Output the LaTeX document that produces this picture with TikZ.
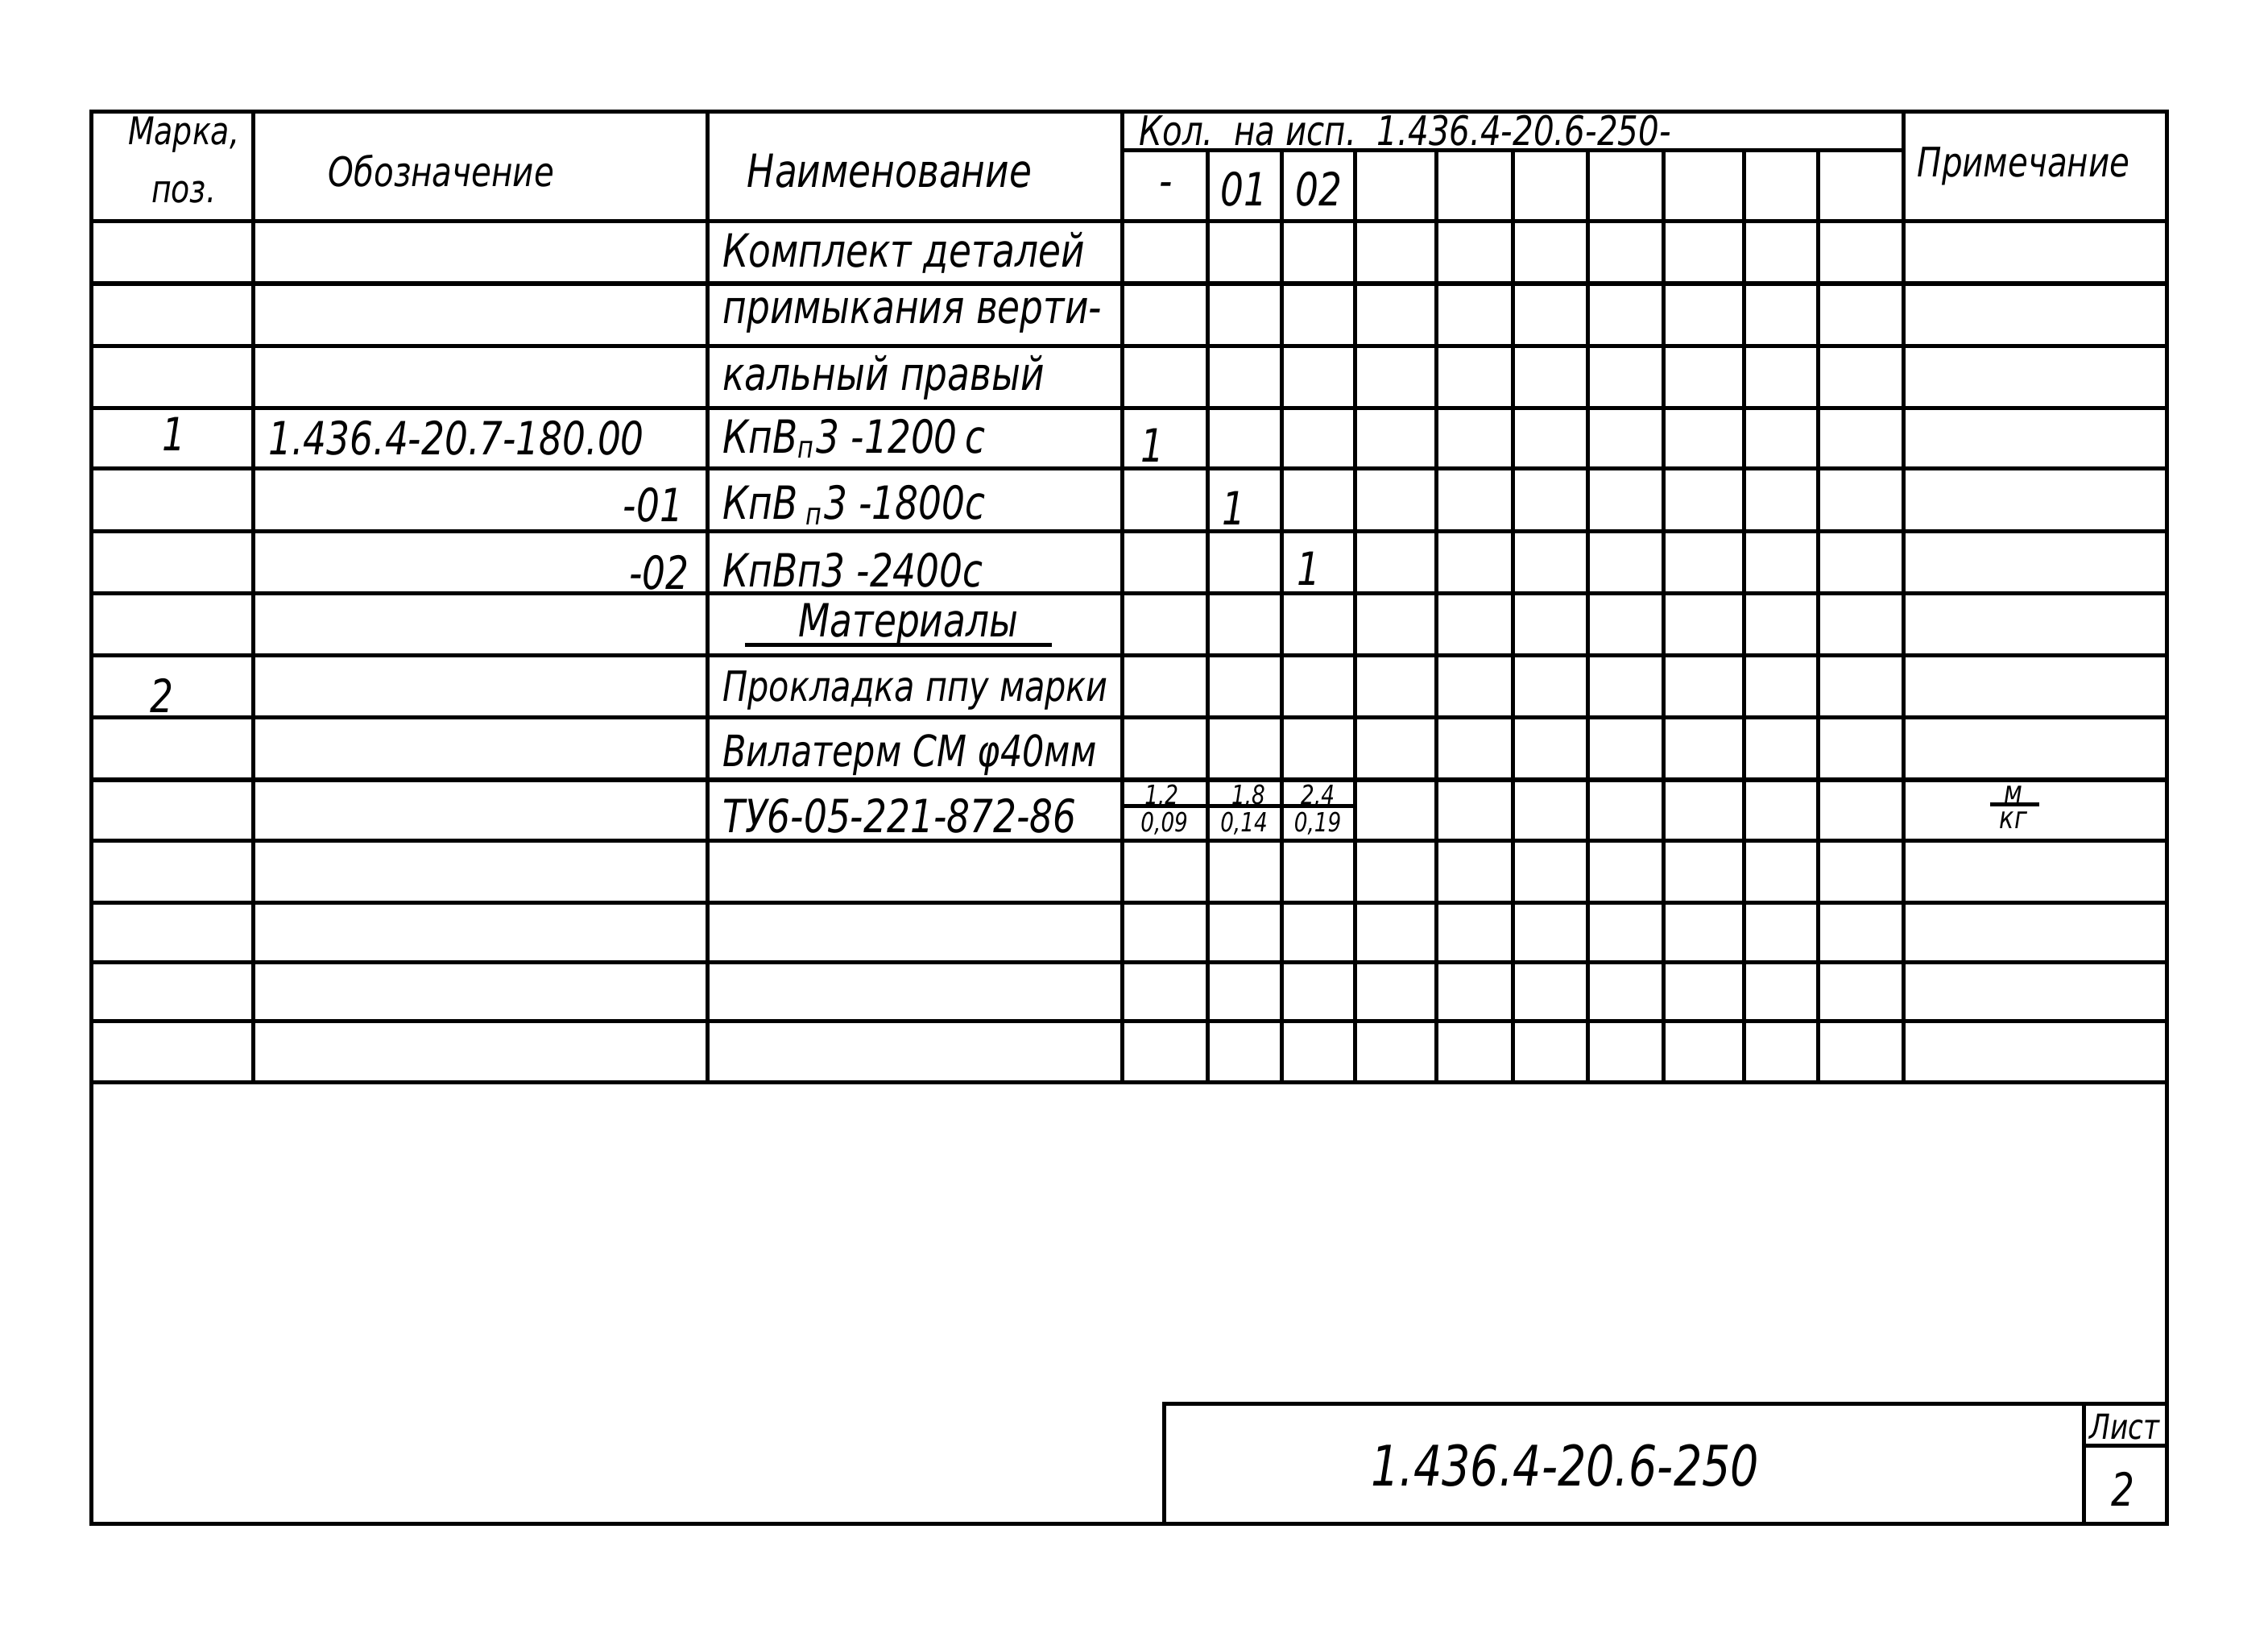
\documentclass[tikz,border=0pt]{standalone}
\usepackage{fontspec}
\setmainfont{DejaVu Sans}[FakeStretch=0.8]
\usepackage{tikz}

\tikzset{
  txt/.style={font=\itshape\fontsize{9}{11}\selectfont, inner sep=0pt},
  sml/.style={font=\itshape\fontsize{6.8}{8}\selectfont, inner sep=0pt},
  frc/.style={font=\itshape\fontsize{5.2}{6}\selectfont, inner sep=0pt},
  ln/.style={line width=.8pt}
}

\begin{document}
\begin{tikzpicture}[x=0.1mm,y=-0.1mm]
  \useasboundingbox (0,0) rectangle (1568,1131);
  % frame
  \draw[ln] (63,77) rectangle (1498,1053);
  % head
  \draw[ln] (776,104) -- (1316,104);
  \draw[ln] (175,77) -- (175,748);
  \draw[ln] (489,77) -- (489,748);
  \draw[ln] (776,77) -- (776,748);
  \draw[ln] (1316,77) -- (1316,748);
  \draw[ln] (835,104) -- (835,748) (886,104) -- (886,748) (937,104) -- (937,748)
            (993,104) -- (993,748) (1046,104) -- (1046,748) (1098,104) -- (1098,748)
            (1150,104) -- (1150,748) (1206,104) -- (1206,748) (1257,104) -- (1257,748);
  % rows
  \draw[ln] (63,153) -- (1498,153) (63,196) -- (1498,196) (63,239) -- (1498,239)
            (63,282) -- (1498,282) (63,324) -- (1498,324) (63,367) -- (1498,367)
            (63,410) -- (1498,410) (63,453) -- (1498,453) (63,496) -- (1498,496)
            (63,539) -- (1498,539) (63,581) -- (1498,581) (63,624) -- (1498,624)
            (63,665) -- (1498,665) (63,706) -- (1498,706) (63,748) -- (1498,748);
  % stamp
  \draw[ln] (805,970) rectangle (1498,1053);
  \draw[ln] (1441,970) -- (1441,1053);
  \draw[ln] (1441,999) -- (1498,999);

  \node[sml,font=\itshape\fontsize{7.5}{9}\selectfont] (marka) at (127,93) {Марка,};
  \node[sml,font=\itshape\fontsize{7.5}{9}\selectfont] (poz) at (127,133) {поз.};
  \node[txt,font=\itshape\fontsize{8}{10}\selectfont] (oboz) at (305,118) {Обозначение};
  \node[txt] (naim) at (615,118) {Наименование};
  \node[txt,anchor=west,font=\itshape\fontsize{8}{10}\selectfont] (kol) at (787,90) {Кол.\ \ на исп.\ \ 1.436.4-20.6-250-};
  \node[txt] (isp0) at (806,131) {-};
  \node[txt] (isp1) at (860,131) {01};
  \node[txt] (isp2) at (912,131) {02};
  \node[txt,font=\itshape\fontsize{8}{10}\selectfont] (prim) at (1399,115) {Примечание};

  \node[txt,anchor=west] (n1) at (499,175) {Комплект деталей};
  \node[txt,anchor=west] (n2) at (499,218) {примыкания верти-};
  \node[txt,anchor=west] (n3) at (499,261) {кальный правый};

  \node[txt] (p1) at (120,300) {1};
  \node[txt,anchor=west] (o1) at (185,303) {1.436.4-20.7-180.00};
  \node[txt,anchor=west] (n4) at (499,303) {КпВ\textsubscript{п}3 -1200\,с};
  \node[txt] (q1) at (797,308) {1};

  \node[txt,anchor=east] (o2) at (473,349) {-01};
  \node[txt,anchor=west] (n5) at (499,349) {КпВ\,\textsubscript{п}3 -1800с};
  \node[txt] (q2) at (853,351) {1};

  \node[txt,anchor=east] (o3) at (477,396) {-02};
  \node[txt,anchor=west] (n6) at (499,394) {КпВп3 -2400с};
  \node[txt] (q3) at (905,393) {1};

  \node[txt] (mat) at (628,432) {Материалы};
  \draw[ln] (515,446) -- (727,446);

  \node[txt] (p2) at (112,481) {2};
  \node[txt,anchor=west,font=\itshape\fontsize{8.2}{10}\selectfont] (n8) at (499,477) {Прокладка ппу марки};
  \node[txt,anchor=west,font=\itshape\fontsize{8.5}{10}\selectfont] (n9) at (499,522) {Вилатерм СМ φ40мм};
  \node[txt,anchor=west] (n10) at (499,564) {ТУ6-05-221-872-86};

  \draw[ln] (776,557) -- (937,557);
  \node[frc] (a1) at (803,550) {1,2};
  \node[frc] (b1) at (805,569) {0,09};
  \node[frc] (a2) at (863,550) {1,8};
  \node[frc] (b2) at (860,569) {0,14};
  \node[frc] (a3) at (911,550) {2,4};
  \node[frc] (b3) at (911,569) {0,19};
  \draw[ln] (1376,556) -- (1410,556);
  \node[frc,font=\itshape\fontsize{6}{7}\selectfont] (m) at (1392,549) {м};
  \node[frc,font=\itshape\fontsize{6}{7}\selectfont] (kg) at (1392,567) {кг};

  \node[txt,font=\itshape\fontsize{11}{13}\selectfont] (shifr) at (1082,1013) {1.436.4-20.6-250};
  \node[sml] (list) at (1469,986) {Лист};
  \node[txt] (nlist) at (1468,1029) {2};
\end{tikzpicture}
\end{document}
